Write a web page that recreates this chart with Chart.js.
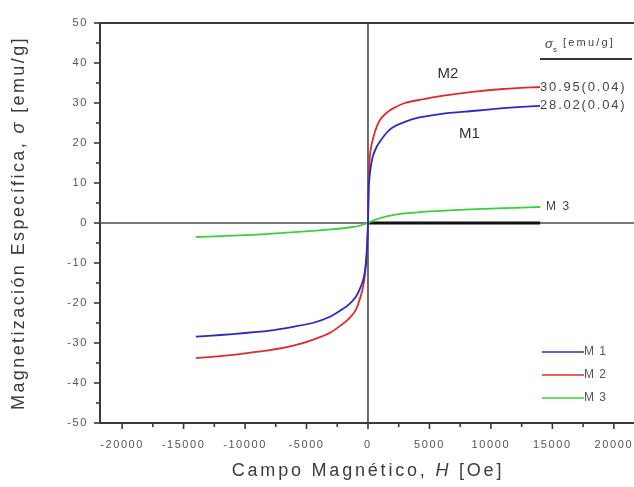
<!DOCTYPE html>
<html><head><meta charset="utf-8">
<script src="https://cdn.jsdelivr.net/npm/chart.js@4.4.1/dist/chart.umd.min.js"></script>
<style>html,body{margin:0;padding:0;background:#fff}#wrap{width:634px;height:487px}</style>
</head><body><div id="wrap"><canvas id="c" width="634" height="487"></canvas></div>
<script>
// ---- data ----
const seriesNames = ['M 1', 'M 2', 'M 3'];
const fieldM1M2 = [-14000,-12000,-10000,-8000,-6000,-4500,-3000,-2000,-1500,-1000,-650,-400,-240,-100,0,50,100,200,400,700,1000,1500,2000,3000,4200,6000,8500,11000,14000];
const sigmaM1 = [-28.4,-28.0,-27.5,-26.9,-25.9,-25.0,-23.3,-21.4,-20.2,-18.5,-16.4,-14.3,-11.9,-7,0,8,10.5,13.5,16.7,19.0,20.5,22.5,23.9,25.3,26.4,27.3,28.0,28.7,29.3];
const sigmaM2 = [-33.8,-33.3,-32.6,-31.8,-30.6,-29.2,-27.3,-25.1,-23.8,-21.8,-18.9,-16.0,-12.7,-8,0,10,14,18,21,24,25.9,27.5,28.6,30.0,30.8,31.8,32.8,33.5,34.0];
const fieldM3 = [-14000,-12000,-9000,-6000,-3000,-1200,-500,0,500,1200,2500,5000,7500,10000,12000,14000];
const sigmaM3 = [-3.5,-3.3,-2.9,-2.3,-1.6,-1.0,-0.5,0,0.7,1.4,2.2,2.9,3.3,3.6,3.8,4.0];
const fieldRef = [0, 14000];
const sigmaRef = [0, 0];
const satValues = ['', '30.95(0.04)', '28.02(0.04)'];
const xTickValues = [-20000,-15000,-10000,-5000,0,5000,10000,15000,20000];
const yTickValues = [-50,-40,-30,-20,-10,0,10,20,30,40,50];

const pts = (xs, ys) => xs.map((v, i) => ({x: v, y: ys[i]}));
const FONT = '"Liberation Sans", Arial, sans-serif';

const decor = {
  id: 'decor',
  beforeDraw(chart) { chart.ctx.letterSpacing = '1.6px'; },
  beforeDatasetsDraw(chart) {
    const {ctx, chartArea: a, scales: {x, y}} = chart;
    ctx.save();
    ctx.strokeStyle = '#4a4a4a'; ctx.lineWidth = 1.6;
    const y0 = y.getPixelForValue(0), x0 = x.getPixelForValue(0);
    ctx.beginPath(); ctx.moveTo(a.left, y0); ctx.lineTo(a.right, y0); ctx.stroke();
    ctx.beginPath(); ctx.moveTo(x0, a.top); ctx.lineTo(x0, a.bottom); ctx.stroke();
    ctx.restore();
  },
  afterDraw(chart) {
    const {ctx, chartArea: a, scales: {x, y}} = chart;
    ctx.save();
    // top frame line
    ctx.strokeStyle = '#3a3a3a'; ctx.lineWidth = 2;
    ctx.beginPath(); ctx.moveTo(a.left, a.top); ctx.lineTo(a.right, a.top); ctx.stroke();
    // tick marks
    ctx.lineWidth = 1.6;
    for (let v = -20000; v <= 20000; v += 2500) {
      const px = x.getPixelForValue(v), len = (v % 5000 === 0) ? 6 : 4;
      ctx.beginPath(); ctx.moveTo(px, a.bottom); ctx.lineTo(px, a.bottom + len); ctx.stroke();
    }
    for (let v = -50; v <= 50; v += 5) {
      const py = y.getPixelForValue(v), len = (v % 10 === 0) ? 6 : 4;
      ctx.beginPath(); ctx.moveTo(a.left, py); ctx.lineTo(a.left - len, py); ctx.stroke();
    }
    // axis titles (mixed italic)
    const drawParts = (parts, size, spacing) => {
      ctx.letterSpacing = spacing + 'px';
      let w = 0;
      parts.forEach(p => { ctx.font = (p[1] ? 'italic ' : '') + size + 'px ' + FONT; w += ctx.measureText(p[0]).width; });
      let cx = -w / 2;
      parts.forEach(p => { ctx.font = (p[1] ? 'italic ' : '') + size + 'px ' + FONT; ctx.fillText(p[0], cx, 0); cx += ctx.measureText(p[0]).width; });
    };
    ctx.fillStyle = '#3c3c3c'; ctx.textBaseline = 'middle'; ctx.textAlign = 'left';
    ctx.save(); ctx.translate(x.getPixelForValue(0), 471);
    drawParts([['Campo Magnético, ', false], ['H', true], [' [Oe]', false]], 18, 2.8);
    ctx.restore();
    ctx.save(); ctx.translate(19, 223); ctx.rotate(-Math.PI / 2);
    drawParts([['Magnetización Específica, ', false], ['σ', true], [' [emu/g]', false]], 18, 2.4);
    ctx.restore();
    ctx.letterSpacing = '0px';
    // curve labels
    ctx.fillStyle = '#333'; ctx.font = '15px ' + FONT; ctx.textAlign = 'center';
    ctx.fillText('M2', x.getPixelForValue(6500), y.getPixelForValue(37.2));
    ctx.fillText('M1', x.getPixelForValue(8250), y.getPixelForValue(22.2));
    ctx.textAlign = 'left'; ctx.letterSpacing = '1.5px'; ctx.font = '12px ' + FONT; ctx.fillStyle = '#444';
    const m3 = chart.getDatasetMeta(2).data; const e3 = m3[m3.length - 1];
    ctx.fillText('M 3', e3.x + 6, e3.y);
    // saturation values at ends of M2 and M1
    ctx.font = '13px ' + FONT; ctx.letterSpacing = '1.8px';
    [1, 0].forEach(i => {
      const d = chart.getDatasetMeta(i).data, e = d[d.length - 1];
      ctx.fillText(i === 1 ? satValues[1] : satValues[2], e.x, e.y);
    });
    // sigma_s header
    ctx.letterSpacing = '0px';
    ctx.font = 'italic 13px ' + FONT; ctx.fillText('σ', 545, 44);
    ctx.font = '8px ' + FONT; ctx.fillText('s', 553, 50);
    ctx.letterSpacing = '2.2px';
    ctx.font = '11px ' + FONT; ctx.fillText('[emu/g]', 563, 43);
    ctx.strokeStyle = '#333'; ctx.lineWidth = 2;
    ctx.beginPath(); ctx.moveTo(540, 59); ctx.lineTo(632, 59); ctx.stroke();
    // legend
    ctx.letterSpacing = '1px'; ctx.font = '12px ' + FONT;
    [0, 1, 2].forEach(i => {
      const ds = chart.data.datasets[i], ly = 352 + i * 23;
      ctx.strokeStyle = ds.borderColor; ctx.lineWidth = 1.6;
      ctx.beginPath(); ctx.moveTo(542, ly); ctx.lineTo(584, ly); ctx.stroke();
      ctx.fillStyle = '#555'; ctx.fillText(ds.label, 584, ly);
    });
    ctx.restore();
    ctx.letterSpacing = '0px';
  }
};

new Chart(document.getElementById('c'), {
  type: 'scatter',
  data: {
    datasets: [
      {label: seriesNames[0], data: pts(fieldM1M2, sigmaM1), borderColor: '#2a2ac4', showLine: true, pointRadius: 0, borderWidth: 1.8, tension: 0.2},
      {label: seriesNames[1], data: pts(fieldM1M2, sigmaM2), borderColor: '#e02b2b', showLine: true, pointRadius: 0, borderWidth: 1.8, tension: 0.2},
      {label: seriesNames[2], data: pts(fieldM3, sigmaM3), borderColor: '#3ad23a', showLine: true, pointRadius: 0, borderWidth: 1.8, tension: 0.2},
      {label: 'ref', data: pts(fieldRef, sigmaRef), borderColor: '#111', showLine: true, pointRadius: 0, borderWidth: 3}
    ]
  },
  options: {
    responsive: false, animation: false,
    layout: {padding: {top: 23, right: 0, left: 0, bottom: 0}},
    plugins: {legend: {display: false}, tooltip: {enabled: false}},
    scales: {
      x: {
        type: 'linear', min: -21800, max: 21640,
        afterFit: s => { s.height = 64; s.paddingLeft = 0; s.paddingRight = 0; },
        afterBuildTicks: s => { s.ticks = xTickValues.map(v => ({value: v})); },
        grid: {display: true, drawOnChartArea: false, drawTicks: false, color: 'rgba(0,0,0,0)'},
        border: {display: true, color: '#3a3a3a', width: 2},
        ticks: {padding: 15, color: '#555', font: {family: FONT, size: 11}, maxRotation: 0, autoSkip: false, callback: v => String(v)}
      },
      y: {
        type: 'linear', min: -50, max: 50,
        afterFit: s => { s.width = 100; s.paddingTop = 0; s.paddingBottom = 0; },
        afterBuildTicks: s => { s.ticks = yTickValues.map(v => ({value: v})); },
        grid: {display: true, drawOnChartArea: false, drawTicks: false, color: 'rgba(0,0,0,0)'},
        border: {display: true, color: '#3a3a3a', width: 2},
        ticks: {padding: 12, color: '#555', font: {family: FONT, size: 11}, autoSkip: false, callback: v => String(v)}
      }
    }
  },
  plugins: [decor]
});
</script>
</body></html>
